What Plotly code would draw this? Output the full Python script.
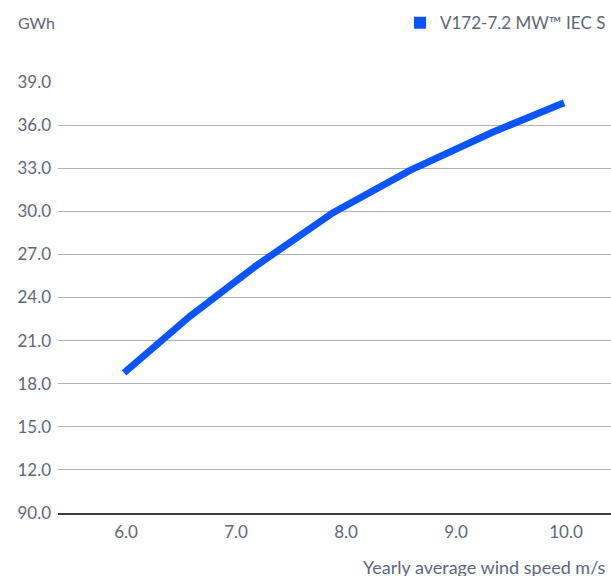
import plotly.graph_objects as go

# Data
wind_speed = [6.0, 6.6, 7.2, 7.9, 8.6, 9.35, 10.0]
aep_gwh = [18.75, 22.7, 26.2, 29.9, 32.85, 35.5, 37.55]

x_tick_vals = [6.0, 7.0, 8.0, 9.0, 10.0]
x_tick_text = ["6.0", "7.0", "8.0", "9.0", "10.0"]
y_tick_vals = [9, 12, 15, 18, 21, 24, 27, 30, 33, 36, 39]
y_tick_text = ["90.0", "12.0", "15.0", "18.0", "21.0", "24.0", "27.0", "30.0", "33.0", "36.0", "39.0"]

series_name = "V172-7.2 MW™ IEC S"
blue = "#0a55ff"
text_col = "#5f6678"
font_family = "Lato, 'Open Sans', sans-serif"

W, H = 611, 576
ML, MR, MT = 58, 0, 82
MB = H - 513
PW, PH = W - ML - MR, H - MT - MB


def px_to_paper(px, py):
    return (px - ML) / PW, (H - MB - py) / PH


fig = go.Figure()
fig.add_trace(go.Scatter(
    x=wind_speed, y=aep_gwh, mode="lines",
    line=dict(color=blue, width=7),
    showlegend=False, hoverinfo="skip",
))
# legend entry (square marker)
fig.add_trace(go.Scatter(
    x=[None], y=[None], mode="markers", name=series_name,
    marker=dict(symbol="square", size=12, color=blue),
))

fig.update_layout(
    width=W, height=H,
    margin=dict(l=ML, r=MR, t=MT, b=MB),
    plot_bgcolor="white", paper_bgcolor="white",
    font=dict(family=font_family, size=17, color=text_col),
    legend=dict(
        x=1.0, y=0.991, xref="container", yref="container",
        xanchor="right", yanchor="top",
        orientation="h", font=dict(size=17, color=text_col),
        bgcolor="rgba(0,0,0,0)",
    ),
    showlegend=True,
)

fig.update_xaxes(
    range=[5.4, 10.427], tickvals=x_tick_vals, ticktext=x_tick_text,
    showgrid=False, zeroline=False,
    showline=True, linecolor="#3a3a3a", linewidth=1.5,
    ticks="", ticklabelstandoff=3, ticklabelshift=2,
    tickfont=dict(size=17, color=text_col),
)
fig.update_yaxes(
    range=[9, 39], tickvals=y_tick_vals, ticktext=y_tick_text,
    showgrid=True, gridcolor="#b0b0b0", gridwidth=1,
    zeroline=False, showline=False, ticks="",
    ticklabelstandoff=6,
    tickfont=dict(size=17, color=text_col),
)

gx, gy = px_to_paper(16, 22)
fig.add_annotation(
    text="GWh", x=gx, y=gy, xref="paper", yref="paper",
    showarrow=False, xanchor="left", yanchor="middle",
    font=dict(size=16, color=text_col),
)
tx, ty = px_to_paper(608, 567)
fig.add_annotation(
    text="Yearly average wind speed m/s", x=tx, y=ty,
    xref="paper", yref="paper",
    showarrow=False, xanchor="right", yanchor="middle",
    font=dict(size=18, color=text_col),
)

fig.write_html(
    "out.html",
    config={"displayModeBar": False},
    post_script="document.body.style.margin='0';document.body.style.overflow='hidden';",
)
